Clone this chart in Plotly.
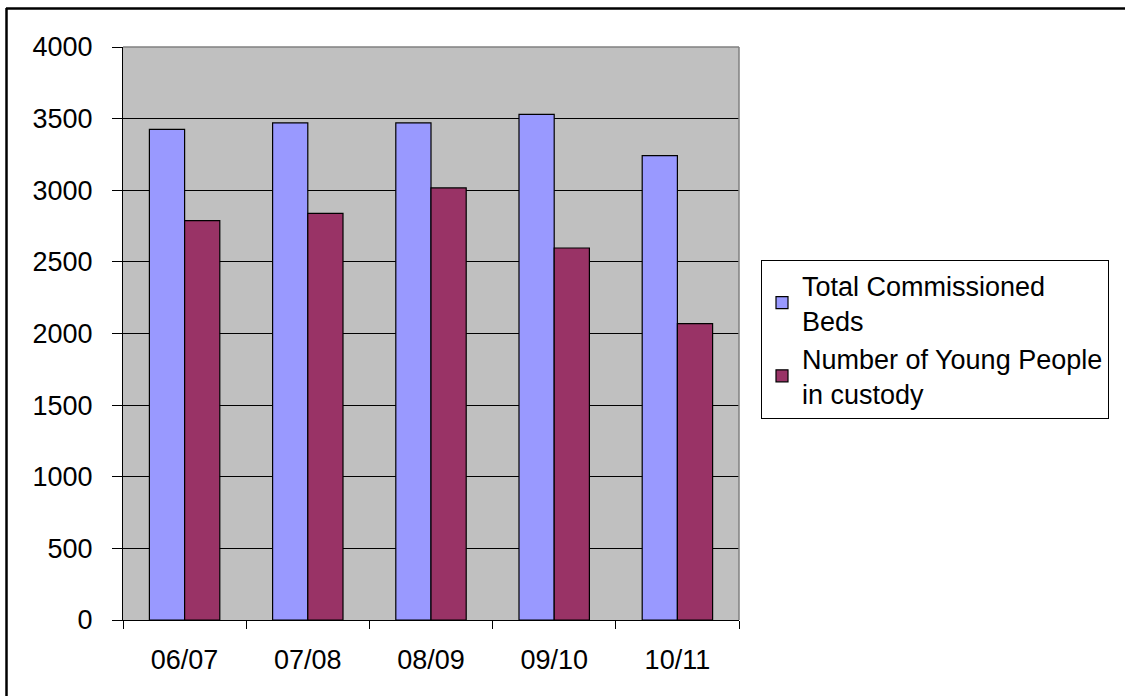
import plotly.graph_objects as go

categories = ["06/07", "07/08", "08/09", "09/10", "10/11"]
beds = [3425, 3470, 3470, 3530, 3242]
custody = [2788, 2839, 3016, 2597, 2069]
series_names = ["Total Commissioned<br>Beds", "Number of Young People<br>in custody"]
y_ticks = [0, 500, 1000, 1500, 2000, 2500, 3000, 3500, 4000]

W, H = 1125, 696
L, R, T, B = 123, 739, 47, 620  # plot area in px


def px_x(p):
    return (p - L) / (R - L)


def px_y(p):
    return (B - p) / (B - T)


FONT = "Arial, 'Liberation Sans', sans-serif"
FS = 27

fig = go.Figure()
fig.add_trace(go.Bar(x=categories, y=beds, name=series_names[0],
                     marker=dict(color="#9999FF", line=dict(color="black", width=1.2))))
fig.add_trace(go.Bar(x=categories, y=custody, name=series_names[1],
                     marker=dict(color="#993366", line=dict(color="black", width=1.2))))

fig.update_layout(
    width=W, height=H,
    margin=dict(l=L, r=W - R, t=T, b=H - B),
    paper_bgcolor="white",
    plot_bgcolor="#C0C0C0",
    barmode="group",
    bargap=1.5 / 3.5,
    bargroupgap=0,
    font=dict(family=FONT, size=FS, color="black"),
    hovermode=False,
    legend=dict(
        x=px_x(761), y=px_y(260), xanchor="left", yanchor="top",
        bgcolor="white", bordercolor="black", borderwidth=1,
        font=dict(family=FONT, size=FS, color="black"),
        tracegroupgap=10,
        itemwidth=30,
    ),
    xaxis=dict(
        showline=True, linecolor="black", linewidth=1,
        ticks="outside", ticklen=8, tickcolor="black", tickwidth=1,
        tickson="boundaries", showgrid=False,
        ticklabelstandoff=16,
        tickfont=dict(family=FONT, size=FS, color="black"),
    ),
    yaxis=dict(
        range=[0, 4000], tickvals=y_ticks,
        showline=True, linecolor="black", linewidth=1,
        ticks="outside", ticklen=10, tickcolor="black", tickwidth=1,
        showgrid=True, gridcolor="black", gridwidth=1,
        zeroline=False,
        ticklabelstandoff=14,
        tickfont=dict(family=FONT, size=FS, color="black"),
    ),
    shapes=[
        # plot-area border (top and right, grey)
        dict(type="line", xref="paper", yref="paper", x0=0, x1=1, y0=1, y1=1,
             line=dict(color="#808080", width=1.5), layer="above"),
        dict(type="line", xref="paper", yref="paper", x0=1, x1=1, y0=0, y1=1,
             line=dict(color="#808080", width=1.5), layer="above"),
        # outer chart frame (left and top, black)
        dict(type="line", xref="paper", yref="paper",
             x0=px_x(6.5), x1=px_x(6.5), y0=px_y(8), y1=px_y(H + 5),
             line=dict(color="black", width=2.5)),
        dict(type="line", xref="paper", yref="paper",
             x0=px_x(6), x1=px_x(W + 5), y0=px_y(8.5), y1=px_y(8.5),
             line=dict(color="black", width=2.5)),
    ],
)

fig.write_html("out.html", config={"displayModeBar": False})
